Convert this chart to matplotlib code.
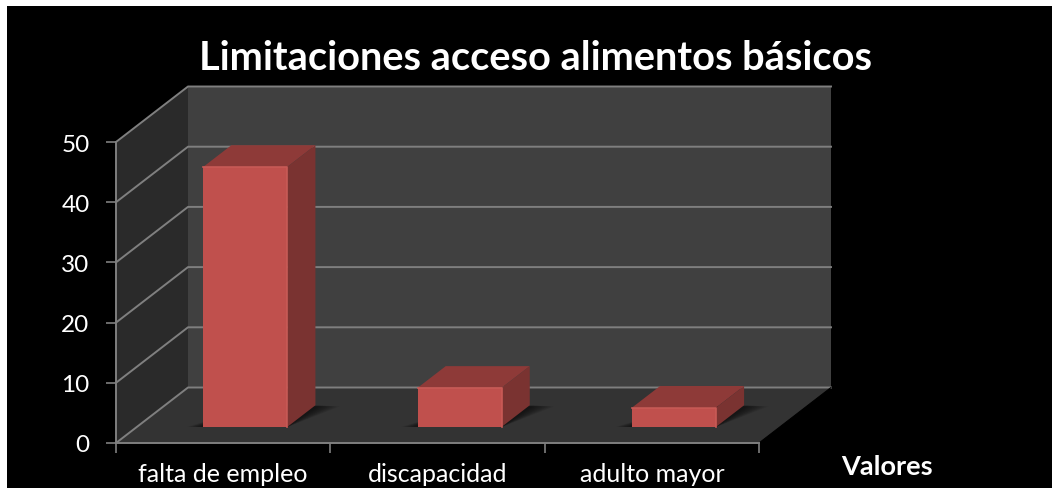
import numpy as np
import matplotlib
matplotlib.use("Agg")
import matplotlib.pyplot as plt
from matplotlib.patches import Polygon, Rectangle

# Data
categories = ["falta de empleo", "discapacidad", "adulto mayor"]
values = [43.2, 6.5, 3.2]
y_ticks = [0, 10, 20, 30, 40, 50]

# Colours
front_col = "#C0504D"
top_col = "#8E3A38"
side_col = "#7A3331"
back_col = "#404040"
wall_col = "#2A2A2A"
floor_col = "#333333"
grid_col = "#7F7F7F"

W, H = 1052, 489
plt.rcParams["font.family"] = ["Lato", "DejaVu Sans"]

fig = plt.figure(figsize=(W / 100, H / 100), dpi=100, facecolor="white")
fig.patches.append(Rectangle((7 / W, 0), 1045 / W, 482 / H, transform=fig.transFigure,
                             facecolor="black", edgecolor="none", zorder=-5))

# Axes is the front plane of the 3D box
ax = fig.add_axes([116 / W, 1 - 444 / H, (759 - 116) / W, (444 - 143) / H])
ax.set_xlim(0, 3)
ax.set_ylim(0, 50)
ax.patch.set_visible(False)

# Oblique depth offset, in data units
dx = 72 / (643 / 3)
dy = 55.5 / (301 / 50)


def proj(x, y, d):
    return (x + d * dx, y + d * dy)


def face(pts, color, z, **kw):
    ax.add_patch(Polygon(pts, closed=True, facecolor=color, edgecolor="none",
                         zorder=z, clip_on=False, **kw))


# Walls
face([proj(0, 0, 1), proj(3, 0, 1), proj(3, 50, 1), proj(0, 50, 1)], back_col, 1)
face([proj(0, 0, 0), proj(0, 0, 1), proj(0, 50, 1), proj(0, 50, 0)], wall_col, 1)
face([proj(0, 0, 0), proj(3, 0, 0), proj(3, 0, 1), proj(0, 0, 1)], floor_col, 1)

# Gridlines
for t in y_ticks:
    x0, y0 = proj(0, t, 1)
    x1, y1 = proj(3, t, 1)
    ax.plot([0, x0, x1], [t, y0, y1], color=grid_col, lw=1.4, zorder=2, clip_on=False)
xb, yb = proj(3, 0, 1)
ax.plot([3, xb], [0, yb], color="black", lw=0.8, zorder=2, clip_on=False)

# Bars
bar_w = 0.392
d0, d1 = 0.29, 0.68
for i, v in enumerate(values):
    xc = i + 0.5 + 0.006
    xl, xr = xc - bar_w / 2, xc + bar_w / 2
    # soft shadow on the floor, stacked to fake the blur
    for k in np.linspace(1.0, 0.2, 8):
        sx = 0.075 * k
        face([proj(xl - sx, 0, d0), proj(xr, 0, d0), proj(xr + sx * 1.6, 0, d1 - 0.02 * k),
              proj(xl + 0.12, 0, d1 - 0.02 * k)], "black", 3, alpha=0.09)
    face([proj(xl, v, d0), proj(xr, v, d0), proj(xr, v, d1), proj(xl, v, d1)], top_col, 4)
    face([proj(xr, 0, d0), proj(xr, 0, d1), proj(xr, v, d1), proj(xr, v, d0)], side_col, 4)
    face([proj(xl, 0, d0), proj(xr, 0, d0), proj(xr, v, d0), proj(xl, v, d0)], front_col, 5)
    # lighter bevel along the front edges
    fx, fy = proj(xl, v, d0)
    gx, gy = proj(xr, 0, d0)
    ax.plot([fx, gx, gx], [fy, fy, gy], color="#C95A56", lw=1.2, zorder=6, clip_on=False)

# Axes furniture
for s in ["top", "right"]:
    ax.spines[s].set_visible(False)
for s in ["left", "bottom"]:
    ax.spines[s].set_color(grid_col)
    ax.spines[s].set_linewidth(1.4)
    ax.spines[s].set_zorder(7)

ax.set_xticks([0, 1, 2, 3])
ax.set_xticklabels([])
ax.set_xticks([0.5, 1.5, 2.5], labels=categories, minor=True)
ax.set_yticks(y_ticks)
ax.tick_params(axis="x", which="major", colors=grid_col, length=7, width=1.2, direction="out")
ax.tick_params(axis="x", which="minor", length=0, labelsize=18, labelcolor="white", pad=14)
ax.tick_params(axis="y", colors=grid_col, length=7, width=1.2, labelsize=17.5,
               labelcolor="white", pad=12)

fig.text(535.5 / W, 1 - 58 / H, "Limitaciones acceso alimentos básicos", color="white",
         fontsize=28.6, fontweight="bold", ha="center", va="center")
fig.text(887 / W, 1 - 467 / H, "Valores", color="white", fontsize=19.5, fontweight="bold",
         ha="center", va="center")

fig.savefig("out.png", dpi=100, facecolor=fig.get_facecolor())
